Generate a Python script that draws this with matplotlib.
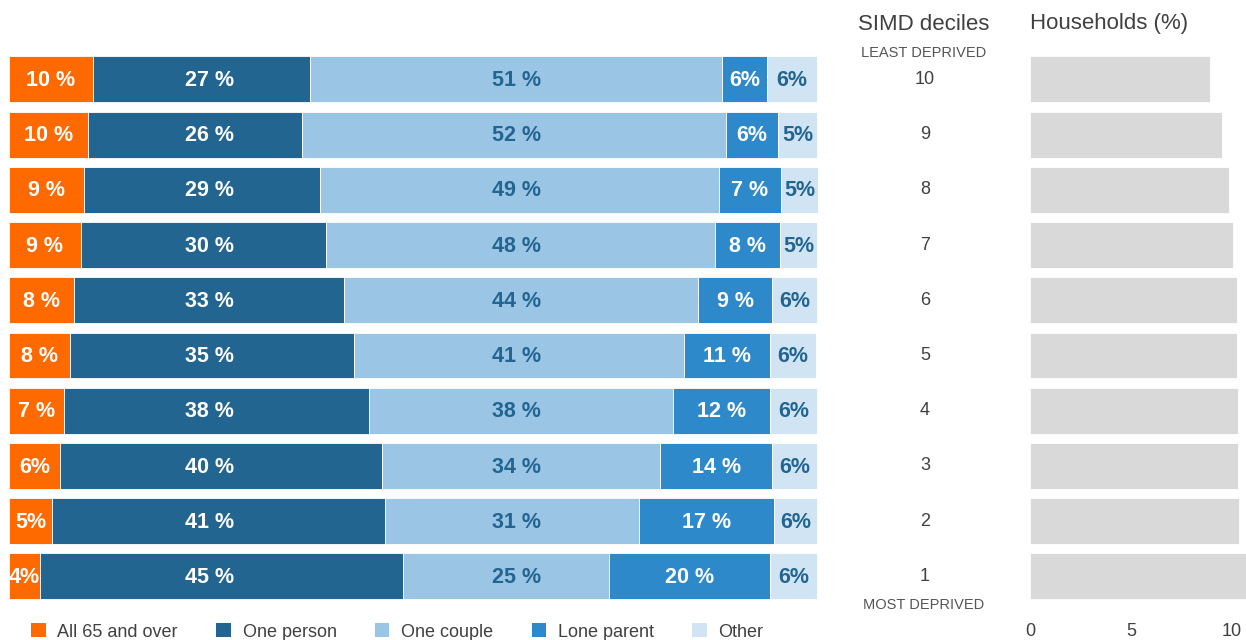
import matplotlib.pyplot as plt
from matplotlib.patches import Patch
import numpy as np

plt.rcParams['font.family'] = ['Liberation Sans', 'DejaVu Sans']

# SIMD deciles, bottom (1) to top (10)
deciles = ['1', '2', '3', '4', '5', '6', '7', '8', '9', '10']

# household composition shares (%), decile 1 -> 10
all_65 = [3.8, 5.3, 6.3, 6.8, 7.5, 8.0, 8.9, 9.3, 9.8, 10.4]
one_person = [44.9, 41.2, 39.8, 37.8, 35.2, 33.4, 30.3, 29.2, 26.5, 26.8]
one_couple = [25.5, 31.4, 34.5, 37.6, 40.8, 43.9, 48.2, 49.3, 52.4, 51.0]
lone_parent = [20.0, 16.7, 13.8, 12.0, 10.6, 9.1, 8.0, 7.7, 6.4, 5.6]
other = [5.8, 5.4, 5.6, 5.8, 5.8, 5.6, 4.6, 4.6, 4.9, 6.2]

# printed labels
lab_65 = ['4%', '5%', '6%', '7 %', '8 %', '8 %', '9 %', '9 %', '10 %', '10 %']
lab_person = ['45 %', '41 %', '40 %', '38 %', '35 %', '33 %', '30 %', '29 %', '26 %', '27 %']
lab_couple = ['25 %', '31 %', '34 %', '38 %', '41 %', '44 %', '48 %', '49 %', '52 %', '51 %']
lab_lone = ['20 %', '17 %', '14 %', '12 %', '11 %', '9 %', '8 %', '7 %', '6%', '6%']
lab_other = ['6%', '6%', '6%', '6%', '6%', '6%', '5%', '5%', '5%', '6%']

# share of all households in each decile (%)
households = [10.9, 10.34, 10.28, 10.28, 10.23, 10.26, 10.03, 9.87, 9.49, 8.89]

series = ['All 65 and over', 'One person', 'One couple', 'Lone parent', 'Other']
colors = ['#FF6A00', '#236591', '#9AC5E5', '#2E89CB', '#D0E4F3']
txt_colors = ['white', 'white', '#236591', 'white', '#236591']

W, H = 1246, 640
fig = plt.figure(figsize=(W / 100, H / 100), dpi=100)

y0, y1 = 51.8, 604.0
bottom = 1 - y1 / H
height = (y1 - y0) / H

ax = fig.add_axes([9 / W, bottom, 809 / W, height])
mid = fig.add_axes([830 / W, bottom, 190 / W, height])
axr = fig.add_axes([1030 / W, bottom, 216 / W, height])

y = np.arange(len(deciles))
data = [all_65, one_person, one_couple, lone_parent, other]
labels = [lab_65, lab_person, lab_couple, lab_lone, lab_other]
left = np.zeros(len(deciles))
for vals, lab, c, tc, name in zip(data, labels, colors, txt_colors, series):
    vals = np.array(vals)
    ax.barh(y, vals, left=left, height=0.83, color=c, edgecolor='white',
            linewidth=0.6, label=name)
    for i in range(len(y)):
        if name == 'One person':
            xt = 24.8
        elif name == 'One couple':
            xt = 62.8
        else:
            xt = left[i] + vals[i] / 2
        ax.text(xt, y[i] - 0.02, lab[i], ha='center', va='center', color=tc,
                fontsize=15.5, fontweight='bold',
                family=['Liberation Sans Narrow', 'Liberation Sans'])
    left += vals

ax.set_xlim(0, left.max())
ax.set_ylim(-0.5, len(deciles) - 0.5)
ax.axis('off')

# middle column with decile numbers
mid.set_xlim(0, 1)
mid.set_ylim(-0.5, len(deciles) - 0.5)
mid.axis('off')
for i, d in enumerate(deciles):
    mid.text(0.5, y[i], d, ha='center', va='center', fontsize=13, color='#404040')
fig.text(924 / W, 1 - 24 / H, 'SIMD deciles', ha='center', va='center',
         fontsize=16, color='#404040')
fig.text(924 / W, 1 - 53 / H, 'LEAST DEPRIVED', ha='center', va='center',
         fontsize=10.5, color='#555555')
fig.text(924 / W, 1 - 605 / H, 'MOST DEPRIVED', ha='center', va='center',
         fontsize=10.5, color='#555555')

# right panel: households
axr.barh(y, households, height=0.83, color='#D9D9D9', edgecolor='white', linewidth=0.6)
axr.set_xlim(0, 216 / 20.2)
axr.set_ylim(-0.5, len(deciles) - 0.5)
axr.set_xticks([0, 5, 10])
axr.set_yticks([])
axr.tick_params(axis='x', length=0, labelsize=13, labelcolor='#404040', pad=14)
for s in axr.spines.values():
    s.set_visible(False)
fig.text(1030 / W, 1 - 24 / H, 'Households (%)', ha='left', va='center',
         fontsize=16, color='#404040')

handles = [Patch(facecolor=c, edgecolor='none') for c in colors]
fig.legend(handles, series, loc='center left', bbox_to_anchor=(15 / W, 1 - 632 / H),
           ncol=5, frameon=False, fontsize=13, labelcolor='#404040',
           handlelength=0.8, handleheight=0.8, handletextpad=0.65, columnspacing=2.13)

fig.savefig('out.png', dpi=100)
